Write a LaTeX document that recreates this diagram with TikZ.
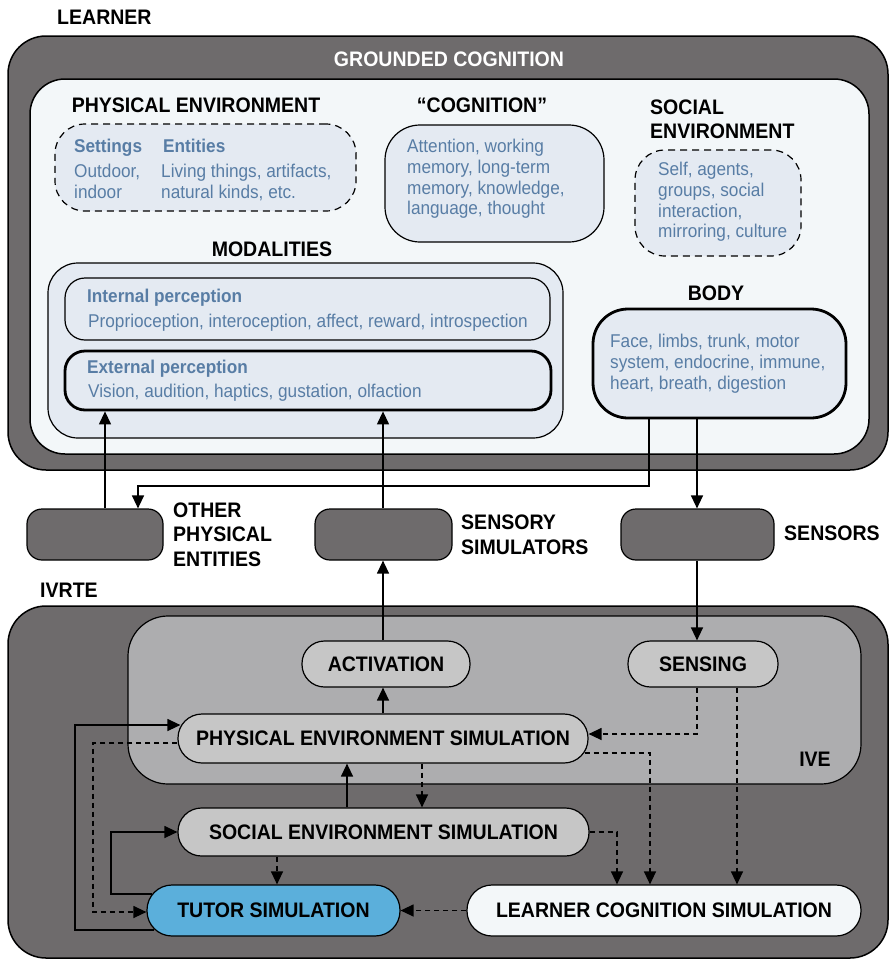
\documentclass[tikz,border=0pt]{standalone}
\usepackage{fontspec}
\setmainfont{Liberation Sans}[FakeStretch=0.93]
\usetikzlibrary{arrows.meta,calc}
\definecolor{darkg}{RGB}{110,107,108}
\definecolor{paleb}{RGB}{243,247,249}
\definecolor{boxb}{RGB}{228,234,242}
\definecolor{txtb}{RGB}{88,125,165}
\definecolor{iveg}{RGB}{173,173,175}
\definecolor{nodeg}{RGB}{198,198,198}
\definecolor{tutb}{RGB}{91,175,219}
\tikzset{
  box/.style={draw=black, line width=1.2pt, inner sep=0pt, anchor=center},
  thickbox/.style={box, line width=2.8pt},
  dashbox/.style={box, dash pattern=on 7pt off 5pt},
  hdr/.style={font=\fontsize{21}{24}\selectfont\bfseries, inner sep=0pt},
  btxt/.style={font=\fontsize{18.5}{20.7}\selectfont, text=txtb, inner sep=0pt, align=left, anchor=north west},
  bsub/.style={font=\fontsize{18.5}{20.7}\selectfont\bfseries, text=txtb, inner sep=0pt, anchor=north west},
  simnode/.style={box, fill=nodeg, font=\fontsize{21}{24}\selectfont\bfseries},
  arr/.style={line width=1.3pt, -{Triangle[length=13pt,width=12pt]}},
  darr/.style={arr, dash pattern=on 5pt off 4pt},
}
\begin{document}
\begin{tikzpicture}[x=1pt,y=-1pt]
\useasboundingbox (0,0) rectangle (889,959);
% ---------- LEARNER ----------
\node[hdr, anchor=west] (tLearner) at (57,17) {LEARNER};
\node[box, line width=1.5pt, fill=darkg, minimum width=880pt, minimum height=434pt, rounded corners=38pt] (learner) at (448,253) {};
\node[hdr, text=white] (tGC) at (449,59) {GROUNDED COGNITION};
\node[box, line width=1.5pt, fill=paleb, minimum width=839pt, minimum height=375pt, rounded corners=35pt] (gc) at (449.5,266.5) {};
% physical environment
\node[hdr] (tPhys) at (196,105) {PHYSICAL ENVIRONMENT};
\node[dashbox, fill=boxb, minimum width=301pt, minimum height=87pt, rounded corners=30pt] (phys) at (205.5,167.5) {};
\node[bsub] (tSet) at (74,139) {Settings};
\node[btxt] (tSet2) at (74,164) {Outdoor,\\indoor};
\node[bsub] (tEnt) at (163,139) {Entities};
\node[btxt] (tEnt2) at (161,164) {Living things, artifacts,\\natural kinds, etc.};
% cognition
\node[hdr] (tCog) at (482,105) {\char"201C COGNITION\char"201D};
\node[box, fill=boxb, minimum width=219pt, minimum height=117pt, rounded corners=35pt] (cog) at (494.5,183.5) {};
\node[btxt] (tCog2) at (407,139) {Attention, working\\memory, long-term\\memory, knowledge,\\language, thought};
% social
\node[hdr, align=left, anchor=north west] (tSoc) at (650,99.5) {SOCIAL\\ENVIRONMENT};
\node[dashbox, fill=boxb, minimum width=166pt, minimum height=106pt, rounded corners=30pt] (soc) at (718,203) {};
\node[btxt] (tSoc2) at (658,162) {Self, agents,\\groups, social\\interaction,\\mirroring, culture};
% modalities
\node[hdr] (tMod) at (272,249) {MODALITIES};
\node[box, fill=boxb, minimum width=515pt, minimum height=175pt, rounded corners=30pt] (mod) at (305.5,350.5) {};
\node[box, fill=boxb, minimum width=485pt, minimum height=62pt, rounded corners=20pt] (int) at (307.5,309) {};
\node[bsub] (tInt) at (87,289) {Internal perception};
\node[btxt] (tInt2) at (88,314) {Proprioception, interoception, affect, reward, introspection};
\node[thickbox, fill=boxb, minimum width=486pt, minimum height=59pt, rounded corners=20pt] (ext) at (308,380.5) {};
\node[bsub] (tExt) at (87,360) {External perception};
\node[btxt] (tExt2) at (88,384) {Vision, audition, haptics, gustation, olfaction};
% body
\node[hdr] (tBody) at (716,293) {BODY};
\node[thickbox, fill=boxb, minimum width=253pt, minimum height=109pt, rounded corners=35pt] (body) at (719.5,363.5) {};
\node[btxt] (tBody2) at (610,334) {Face, limbs, trunk, motor\\system, endocrine, immune,\\heart, breath, digestion};
% ---------- middle row ----------
\node[box, fill=darkg, minimum width=136pt, minimum height=51pt, rounded corners=15pt] (other) at (95,534.5) {};
\node[hdr, align=left, anchor=north west, font=\fontsize{21}{24.5}\selectfont\bfseries] (tOther) at (173,502.5) {OTHER\\PHYSICAL\\ENTITIES};
\node[box, fill=darkg, minimum width=137pt, minimum height=51pt, rounded corners=15pt] (sensim) at (383.5,534.5) {};
\node[hdr, align=left, anchor=north west, font=\fontsize{21}{25}\selectfont\bfseries] (tSensim) at (461,514.5) {SENSORY\\SIMULATORS};
\node[box, fill=darkg, minimum width=153pt, minimum height=51pt, rounded corners=15pt] (sensors) at (697.5,534.5) {};
\node[hdr, anchor=west] (tSensors) at (784,533) {SENSORS};
% ---------- IVRTE ----------
\node[hdr, anchor=west] (tIvrte) at (40,590) {IVRTE};
\node[box, line width=1.5pt, fill=darkg, minimum width=880pt, minimum height=352pt, rounded corners=38pt] (ivrte) at (448,782) {};
\node[box, fill=iveg, minimum width=733pt, minimum height=168pt, rounded corners=40pt] (ive) at (494.5,700) {};
\node[hdr] (tIve) at (815,759) {IVE};
\node[simnode, minimum width=168pt, minimum height=46pt, rounded corners=22.5pt] (actv) at (386,664) {ACTIVATION};
\node[simnode, minimum width=150pt, minimum height=46pt, rounded corners=22.5pt] (sensing) at (703,664) {SENSING};
\node[simnode, minimum width=410pt, minimum height=49pt, rounded corners=24pt] (pes) at (383,738.5) {PHYSICAL ENVIRONMENT SIMULATION};
\node[simnode, minimum width=411pt, minimum height=48pt, rounded corners=23.5pt] (ses) at (383.5,832) {SOCIAL ENVIRONMENT SIMULATION};
\node[simnode, fill=tutb, minimum width=253pt, minimum height=51pt, rounded corners=25pt] (tutor) at (273.5,910.5) {TUTOR SIMULATION};
\node[simnode, fill=paleb, minimum width=394pt, minimum height=51pt, rounded corners=25pt] (lcs) at (664,910.5) {LEARNER COGNITION SIMULATION};
% ---------- lanes ----------
\coordinate (xa) at (105,0);
\coordinate (xb) at (383,0);
\coordinate (xc) at (649,0);
\coordinate (xd) at (138,0);
\coordinate (xe) at (697,0);
\coordinate (xf) at (737,0);
\coordinate (xg) at (347,0);
\coordinate (xh) at (422,0);
\coordinate (xi) at (75,0);
\coordinate (xj) at (93,0);
\coordinate (xk) at (111,0);
\coordinate (xl) at (277,0);
\coordinate (xm) at (650,0);
\coordinate (xn) at (617,0);
\coordinate (ya) at (0,486);
\coordinate (yb) at (0,725);
\coordinate (yc) at (0,743);
\coordinate (yd) at (0,930);
\coordinate (ye) at (0,912);
\coordinate (yf) at (0,894);
\coordinate (yg) at (0,734);
\coordinate (yh) at (0,753);
% ---------- connectors ----------
\draw[arr] (other.north -| xa) -- (ext.south -| xa);
\draw[arr] (sensim.north -| xb) -- (ext.south -| xb);
\draw[arr] (body.south -| xc) -- (xc |- ya) -- (xd |- ya) -- (other.north -| xd);
\draw[arr] (body.south -| xe) -- (sensors.north -| xe);
\draw[arr] (actv.north -| xb) -- (sensim.south -| xb);
\draw[arr] (sensors.south -| xe) -- (sensing.north -| xe);
\draw[arr] (pes.north -| xb) -- (actv.south -| xb);
\draw[arr] (ses.north -| xg) -- (pes.south -| xg);
\draw[darr] (pes.south -| xh) -- (ses.north -| xh);
\draw[arr] ($(tutor.west |- yd)+(8,0)$) -- (xi |- yd) -- (xi |- yb) -- ($(pes.west |- yb)+(3,0)$);
\draw[darr] (pes.west |- yc) -- (xj |- yc) -- (xj |- ye) -- (tutor.west |- ye);
\draw[arr] ($(tutor.west |- yf)+(6,0)$) -- (xk |- yf) -- (xk |- ses.west) -- (ses.west);
\draw[darr] (ses.south -| xl) -- (tutor.north -| xl);
\draw[darr] (lcs.west) -- (tutor.east);
\draw[darr] (sensing.south -| xe) -- (xe |- yg) -- (pes.east |- yg);
\draw[darr] (sensing.south -| xf) -- (lcs.north -| xf);
\draw[darr] ($(pes.east |- yh)+(-4,0)$) -- (xm |- yh) -- (lcs.north -| xm);
\draw[darr] (ses.east) -- (xn |- ses.east) -- (lcs.north -| xn);
\end{tikzpicture}
\end{document}
